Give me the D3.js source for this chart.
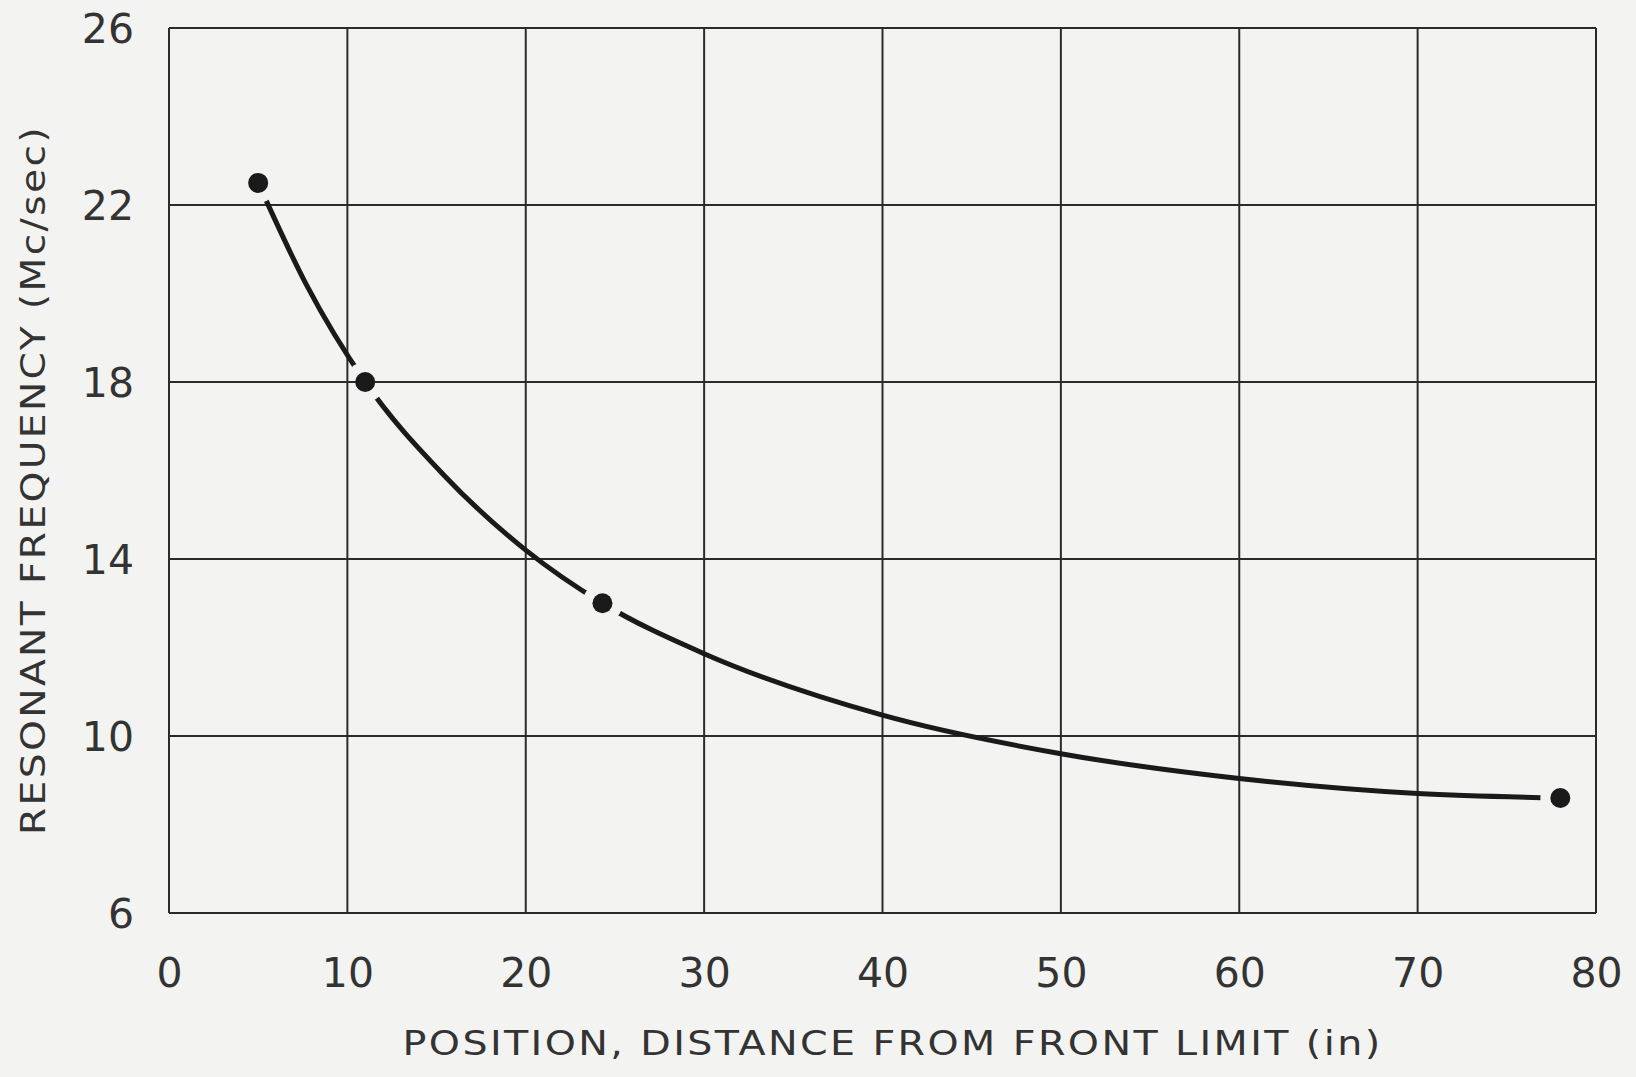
<!DOCTYPE html>
<html>
<head>
<meta charset="utf-8">
<script src="https://cdn.jsdelivr.net/npm/d3@7"></script>
<style>
  html, body { margin: 0; padding: 0; background: #f3f3f1; }
  svg { display: block; }
  text { font-family: "DejaVu Sans", "Liberation Sans", sans-serif; fill: #333; }
</style>
</head>
<body>
<svg id="chart"></svg>
<script>
// tick values
const xTicks = [0, 10, 20, 30, 40, 50, 60, 70, 80];
const yTicks = [6, 10, 14, 18, 22, 26];

// measured points
const pointX = [5, 11, 24.3, 78];
const pointY = [22.5, 18, 13, 8.6];

// faired curve
const curveX = [5, 7.7, 11, 15.4, 20, 24.3, 30, 40, 50, 60, 70, 78];
const curveY = [22.5, 20.2, 18, 15.9, 14.2, 13.0, 11.86, 10.47, 9.6, 9.04, 8.7, 8.6];

const xTitle = 'POSITION, DISTANCE FROM FRONT LIMIT (in)';
const yTitle = 'RESONANT FREQUENCY (Mc/sec)';

const width = 1636, height = 1077;
const margin = { top: 28, right: 40, bottom: 164, left: 169 };
const innerW = width - margin.left - margin.right;
const innerH = height - margin.top - margin.bottom;

const svg = d3.select('#chart')
    .attr('width', width)
    .attr('height', height);

svg.append('rect')
    .attr('width', width)
    .attr('height', height)
    .attr('fill', '#f3f3f1');

const g = svg.append('g')
    .attr('transform', `translate(${margin.left},${margin.top})`);

const x = d3.scaleLinear().domain([0, 80]).range([0, innerW]);
const y = d3.scaleLinear().domain([6, 26]).range([innerH, 0]);

// grid
g.append('g')
    .selectAll('line')
    .data(xTicks)
    .enter().append('line')
      .attr('x1', d => x(d)).attr('x2', d => x(d))
      .attr('y1', 0).attr('y2', innerH)
      .attr('stroke', '#2b2b2b')
      .attr('stroke-width', 2);

g.append('g')
    .selectAll('line')
    .data(yTicks)
    .enter().append('line')
      .attr('x1', 0).attr('x2', innerW)
      .attr('y1', d => y(d)).attr('y2', d => y(d))
      .attr('stroke', '#2b2b2b')
      .attr('stroke-width', 2);

// tick labels through the axes, domain and tick marks hidden
const xAxis = g.append('g')
    .attr('transform', `translate(0,${innerH})`)
    .call(d3.axisBottom(x).tickValues(xTicks).tickSize(0).tickPadding(0));
xAxis.select('.domain').remove();
xAxis.selectAll('text')
    .attr('dy', null)
    .attr('y', 74)
    .style('font-size', '41px');

const yAxis = g.append('g')
    .call(d3.axisLeft(y).tickValues(yTicks).tickSize(0).tickPadding(35));
yAxis.select('.domain').remove();
yAxis.selectAll('text')
    .attr('dy', '0.36em')
    .style('font-size', '41px');
svg.selectAll('.tick text')
    .attr('fill', '#333')
    .style('font-family', '"DejaVu Sans", "Liberation Sans", sans-serif');

// curve, broken around each measured point
const mask = svg.append('defs').append('mask')
    .attr('id', 'gaps')
    .attr('maskUnits', 'userSpaceOnUse')
    .attr('x', 0).attr('y', 0)
    .attr('width', width).attr('height', height);
mask.append('rect')
    .attr('x', -margin.left).attr('y', -margin.top)
    .attr('width', width).attr('height', height)
    .attr('fill', '#fff');
mask.selectAll('circle')
    .data(pointX)
    .enter().append('circle')
      .attr('cx', d => x(d))
      .attr('cy', (d, i) => y(pointY[i]))
      .attr('r', 20)
      .attr('fill', '#000');

const line = d3.line()
    .x(d => x(d))
    .y((d, i) => y(curveY[i]))
    .curve(d3.curveMonotoneX);

g.append('path')
    .datum(curveX)
    .attr('d', line)
    .attr('fill', 'none')
    .attr('stroke', '#1a1a1a')
    .attr('stroke-width', 5)
    .attr('stroke-linecap', 'round')
    .attr('mask', 'url(#gaps)');

g.append('g')
    .selectAll('circle')
    .data(pointX)
    .enter().append('circle')
      .attr('cx', d => x(d))
      .attr('cy', (d, i) => y(pointY[i]))
      .attr('r', 10)
      .attr('fill', '#1a1a1a');

// titles
svg.append('text')
    .attr('x', margin.left + innerW / 2 + 10)
    .attr('y', 1055)
    .attr('text-anchor', 'middle')
    .style('font-size', '33px')
    .style('letter-spacing', '2px')
    .attr('textLength', 980)
    .attr('lengthAdjust', 'spacingAndGlyphs')
    .text(xTitle);

svg.append('text')
    .attr('transform', 'translate(45,480) rotate(-90)')
    .attr('text-anchor', 'middle')
    .style('font-size', '33px')
    .style('letter-spacing', '2px')
    .attr('textLength', 710)
    .attr('lengthAdjust', 'spacingAndGlyphs')
    .text(yTitle);
</script>
</body>
</html>
